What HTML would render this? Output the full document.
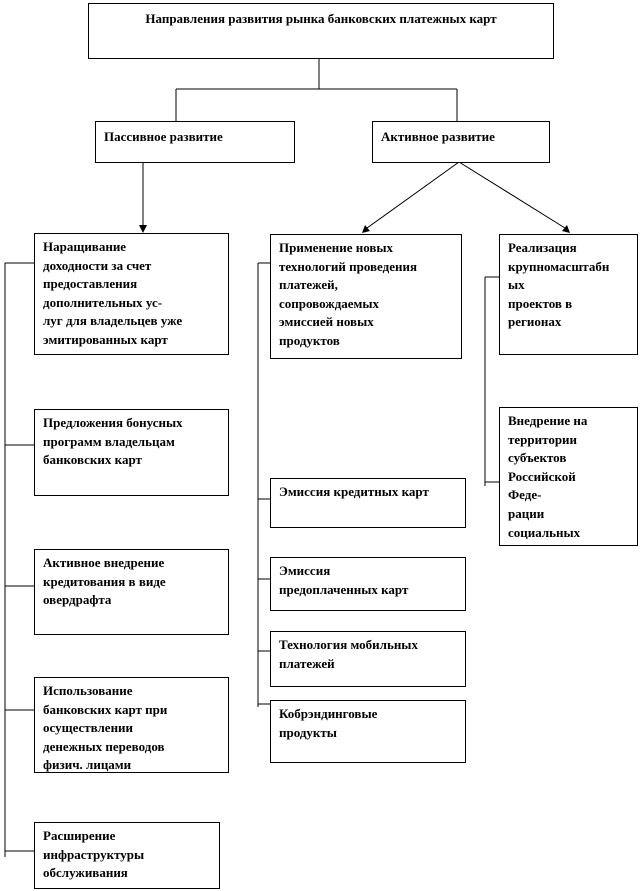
<!DOCTYPE html>
<html><head><meta charset="utf-8"><style>
body{margin:0;width:642px;height:891px;background:#fff;position:relative;overflow:hidden;font-family:"Liberation Serif",serif;font-weight:bold;font-size:13px;color:#000}
.b{position:absolute;border:1px solid #000;box-sizing:border-box;background:#fff;line-height:18.6px;padding:4px 8px;white-space:nowrap}
svg{position:absolute;left:0;top:0}
</style></head><body>
<svg width="642" height="891">
<g stroke="#000" stroke-width="1" fill="none">
<path d="M319 58V89M176 89H457M176 89V122M457 89V122"/>
<path d="M143 162V226"/>
<path d="M459 162L367 228M459 162L565 228"/>
<path d="M5 263H34M5 263V857M5 445H34M5 586H34M5 710H34M5 851H34"/>
<path d="M258 263H270M258 263V707M258 499H270M258 579H270M258 651H270M258 704H270"/>
<path d="M485 277H499M485 277V486M485 482H499"/>
</g>
<g fill="#000">
<path d="M143 233l-4-8h8z"/>
<path d="M362 233l3-8 5 6z"/>
<path d="M570 233l-8-2 5-6z"/>
</g>
</svg>
<div class="b" style="left:88px;top:3px;width:466px;height:56px;text-align:center;padding-top:6px">Направления развития рынка банковских платежных карт</div>
<div class="b" style="left:95px;top:121px;width:200px;height:42px;padding-top:6px">Пассивное развитие</div>
<div class="b" style="left:372px;top:121px;width:178px;height:42px;padding-top:6px">Активное развитие</div>
<div class="b" style="left:34px;top:233px;width:195px;height:122px">Наращивание<br>доходности за счет<br>предоставления<br>дополнительных ус-<br>луг для владельцев уже<br>эмитированных карт</div>
<div class="b" style="left:34px;top:409px;width:195px;height:87px">Предложения бонусных<br>программ владельцам<br>банковских карт</div>
<div class="b" style="left:34px;top:549px;width:195px;height:86px">Активное внедрение<br>кредитования в виде<br>овердрафта</div>
<div class="b" style="left:34px;top:677px;width:195px;height:96px">Использование<br>банковских карт при<br>осуществлении<br>денежных переводов<br>физич. лицами</div>
<div class="b" style="left:34px;top:822px;width:186px;height:67px">Расширение<br>инфраструктуры<br>обслуживания</div>
<div class="b" style="left:270px;top:234px;width:192px;height:125px">Применение новых<br>технологий проведения<br>платежей,<br>сопровождаемых<br>эмиссией новых<br>продуктов</div>
<div class="b" style="left:270px;top:478px;width:196px;height:50px">Эмиссия кредитных карт</div>
<div class="b" style="left:270px;top:557px;width:196px;height:54px">Эмиссия<br>предоплаченных карт</div>
<div class="b" style="left:270px;top:631px;width:196px;height:56px">Технология мобильных<br>платежей</div>
<div class="b" style="left:270px;top:700px;width:196px;height:63px">Кобрэндинговые<br>продукты</div>
<div class="b" style="left:499px;top:234px;width:139px;height:121px">Реализация<br>крупномасштабн<br>ых<br>проектов в<br>регионах</div>
<div class="b" style="left:499px;top:407px;width:139px;height:139px">Внедрение на<br>территории<br>субъектов<br>Российской<br>Феде-<br>рации<br>социальных</div>
</body></html>
